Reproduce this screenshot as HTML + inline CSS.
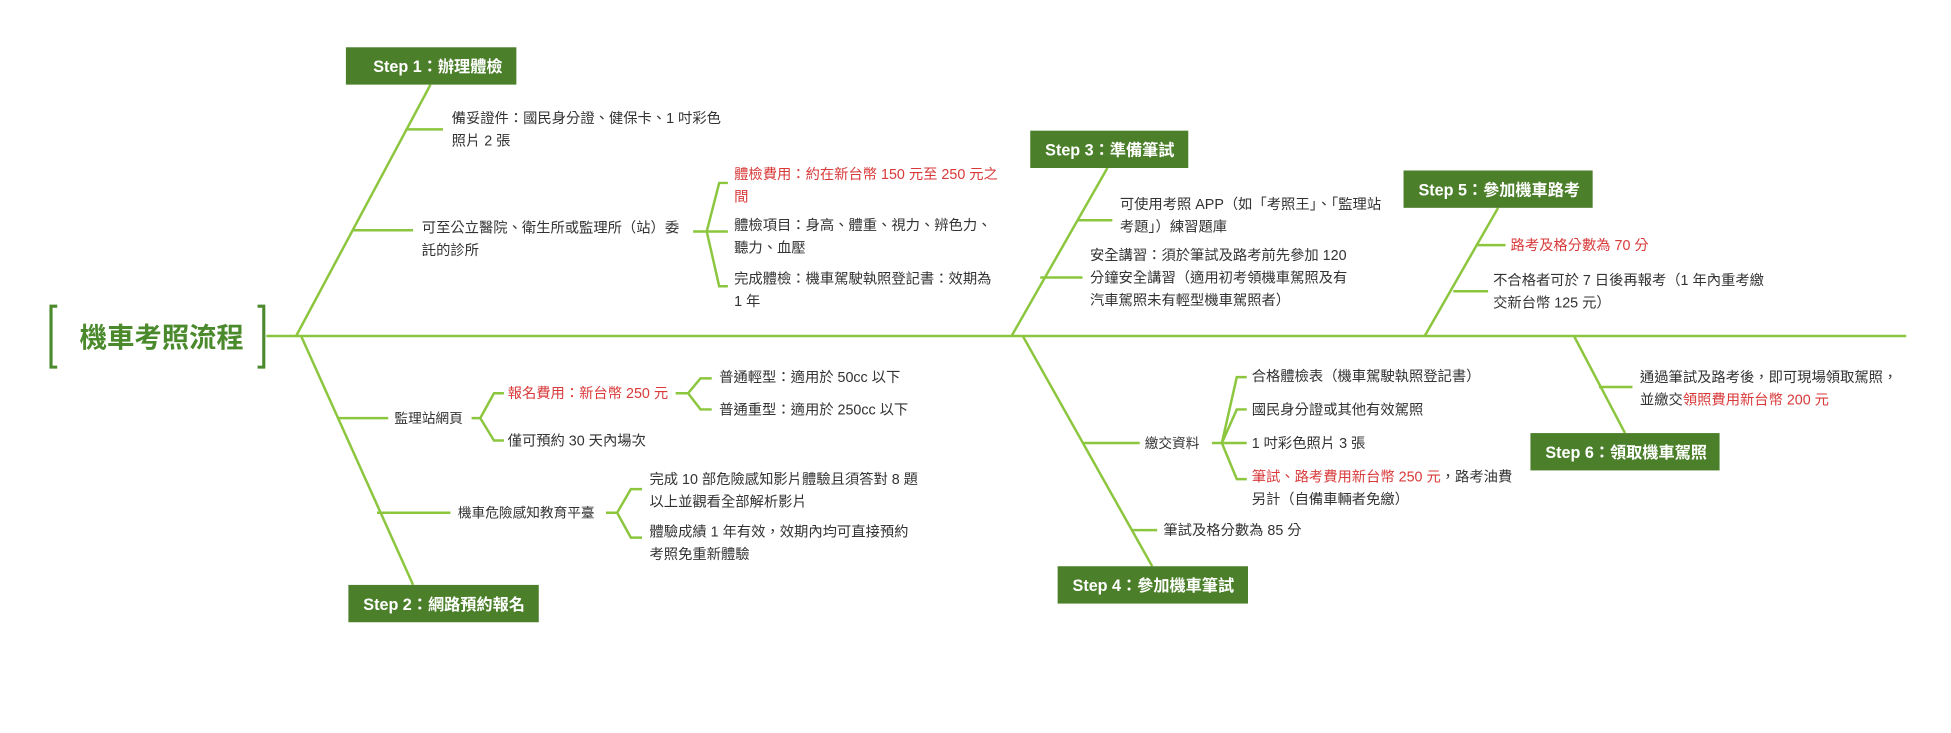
<!DOCTYPE html>
<html><head><meta charset="utf-8"><style>
html,body{margin:0;padding:0;background:#fff;}
svg{display:block;}
text{font-family:"Liberation Sans","Noto Sans CJK TC",sans-serif;fill:#333;font-size:11.5px;}
.r{fill:#d83a3a;}
.b{fill:#fff;font-weight:bold;font-size:13px;}
.l{stroke:#8cc63f;stroke-width:2;fill:none;}
.box{fill:#4b7f2a;}
</style></head><body>
<svg width="1951" height="733" viewBox="0 0 1568 589" preserveAspectRatio="none" xmlns="http://www.w3.org/2000/svg">
<!-- title -->
<path d="M46 246 H41 V295 H46" stroke="#4b8a2c" stroke-width="2.5" fill="none"/>
<path d="M207 246 H212 V295 H207" stroke="#4b8a2c" stroke-width="2.5" fill="none"/>
<text x="64" y="279" style="font-size:22px;font-weight:bold;fill:#4b8a2c">機車考照流程</text>
<line class="l" x1="214" y1="270" x2="1532" y2="270"/>

<!-- Step 1 -->
<line class="l" x1="238" y1="270" x2="346" y2="68"/>
<rect class="box" x="278" y="38" width="137" height="30"/>
<text class="b" x="300" y="58">Step 1：辦理體檢</text>
<line class="l" x1="326" y1="104" x2="356" y2="104"/>
<text x="363" y="99">備妥證件：國民身分證、健保卡、1 吋彩色</text>
<text x="363" y="117">照片 2 張</text>
<line class="l" x1="283" y1="185" x2="332" y2="185"/>
<text x="339" y="187">可至公立醫院、衛生所或監理所（站）委</text>
<text x="339" y="205">託的診所</text>
<path class="l" d="M557 186 H568 M568 186 L578 147 H585 M568 186 H585 M568 186 L578 230 H585"/>
<text class="r" x="590" y="144">體檢費用：約在新台幣 150 元至 250 元之</text>
<text class="r" x="590" y="162">間</text>
<text x="590" y="185">體檢項目：身高、體重、視力、辨色力、</text>
<text x="590" y="203">聽力、血壓</text>
<text x="590" y="228">完成體檢：機車駕駛執照登記書：效期為</text>
<text x="590" y="246">1 年</text>

<!-- Step 2 -->
<line class="l" x1="242" y1="270" x2="332" y2="470"/>
<rect class="box" x="280" y="470" width="153" height="30"/>
<text class="b" x="292" y="490">Step 2：網路預約報名</text>
<line class="l" x1="271" y1="336" x2="312" y2="336"/>
<text x="317" y="340" style="font-size:11px">監理站網頁</text>
<path class="l" d="M379 336 H386 L397 316 H405 M386 336 L397 354 H405"/>
<text class="r" x="408" y="320">報名費用：新台幣 250 元</text>
<text x="408" y="358">僅可預約 30 天內場次</text>
<path class="l" d="M543 316 H553 L563 304 H572 M553 316 L563 329 H572"/>
<text x="578" y="307">普通輕型：適用於 50cc 以下</text>
<text x="578" y="333">普通重型：適用於 250cc 以下</text>
<line class="l" x1="303" y1="412" x2="362" y2="412"/>
<text x="368" y="416" style="font-size:11px">機車危險感知教育平臺</text>
<path class="l" d="M487 412 H496 L507 393 H516 M496 412 L507 432 H516"/>
<text x="522" y="389">完成 10 部危險感知影片體驗且須答對 8 題</text>
<text x="522" y="407">以上並觀看全部解析影片</text>
<text x="522" y="431">體驗成績 1 年有效，效期內均可直接預約</text>
<text x="522" y="449">考照免重新體驗</text>

<!-- Step 3 -->
<line class="l" x1="813" y1="270" x2="890" y2="135"/>
<rect class="box" x="828" y="105" width="127" height="30"/>
<text class="b" x="840" y="125">Step 3：準備筆試</text>
<line class="l" x1="866" y1="177" x2="894" y2="177"/>
<text x="900" y="168">可使用考照 APP（如「考照王」、「監理站</text>
<text x="900" y="186">考題」）練習題庫</text>
<line class="l" x1="836" y1="223" x2="870" y2="223"/>
<text x="876" y="209">安全講習：須於筆試及路考前先參加 120</text>
<text x="876" y="227">分鐘安全講習（適用初考領機車駕照及有</text>
<text x="876" y="245">汽車駕照未有輕型機車駕照者）</text>

<!-- Step 4 -->
<line class="l" x1="822" y1="270" x2="926" y2="455"/>
<rect class="box" x="850" y="455" width="153" height="30"/>
<text class="b" x="862" y="475">Step 4：參加機車筆試</text>
<line class="l" x1="870" y1="356" x2="916" y2="356"/>
<text x="920" y="360" style="font-size:11px">繳交資料</text>
<path class="l" d="M974 356 H982 L994 303 H1002 M982 356 L994 329 H1002 M982 356 H1002 M982 356 L994 385 H1002"/>
<text x="1006" y="306">合格體檢表（機車駕駛執照登記書）</text>
<text x="1006" y="333">國民身分證或其他有效駕照</text>
<text x="1006" y="360">1 吋彩色照片 3 張</text>
<text x="1006" y="387"><tspan class="r">筆試、路考費用新台幣 250 元</tspan>，路考油費</text>
<text x="1006" y="405">另計（自備車輛者免繳）</text>
<line class="l" x1="910" y1="426" x2="930" y2="426"/>
<text x="935" y="430">筆試及格分數為 85 分</text>

<!-- Step 5 -->
<line class="l" x1="1145" y1="270" x2="1204" y2="167"/>
<rect class="box" x="1128" y="137" width="152" height="30"/>
<text class="b" x="1140" y="157">Step 5：參加機車路考</text>
<line class="l" x1="1186" y1="197" x2="1210" y2="197"/>
<text class="r" x="1214" y="201">路考及格分數為 70 分</text>
<line class="l" x1="1168" y1="234" x2="1196" y2="234"/>
<text x="1200" y="229">不合格者可於 7 日後再報考（1 年內重考繳</text>
<text x="1200" y="247">交新台幣 125 元）</text>

<!-- Step 6 -->
<line class="l" x1="1265" y1="270" x2="1306" y2="348"/>
<rect class="box" x="1230" y="348" width="152" height="30"/>
<text class="b" x="1242" y="368">Step 6：領取機車駕照</text>
<line class="l" x1="1285" y1="311" x2="1312" y2="311"/>
<text x="1318" y="307">通過筆試及路考後，即可現場領取駕照，</text>
<text x="1318" y="325">並繳交<tspan class="r">領照費用新台幣 200 元</tspan></text>
</svg>
</body></html>
